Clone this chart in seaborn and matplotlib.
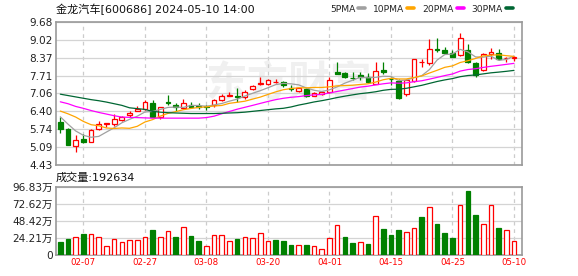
import numpy as np
import pandas as pd
import matplotlib
matplotlib.use("Agg")
import matplotlib.pyplot as plt
import seaborn as sns
from matplotlib.lines import Line2D

# ---------------- data ----------------
dates = ["02-02", "02-05", "02-06", "02-07", "02-08", "02-19", "02-20", "02-21", "02-22", "02-23",
         "02-26", "02-27", "02-28", "02-29", "03-01", "03-04", "03-05", "03-06", "03-07", "03-08",
         "03-11", "03-12", "03-13", "03-14", "03-15", "03-18", "03-19", "03-20", "03-21", "03-22",
         "03-25", "03-26", "03-27", "03-28", "03-29", "04-01", "04-02", "04-03", "04-08", "04-09",
         "04-10", "04-11", "04-12", "04-15", "04-16", "04-17", "04-18", "04-19", "04-22", "04-23",
         "04-24", "04-25", "04-26", "04-29", "04-30", "05-06", "05-07", "05-08", "05-09", "05-10"]

opens = [6.00, 5.76, 5.11, 5.39, 5.27, 5.77, 5.95, 5.92, 6.09, 6.25,
         6.43, 6.48, 6.71, 6.21, 6.74, 6.64, 6.51, 6.62, 6.58, 6.58,
         6.63, 6.82, 6.96, 6.95, 6.92, 7.21, 7.40, 7.40, 7.47, 7.46,
         7.27, 7.14, 7.21, 6.97, 7.05, 7.10, 7.84, 7.80, 7.63, 7.75,
         7.65, 7.42, 7.93, 7.60, 7.52, 7.02, 7.52, 8.20, 8.16, 8.69,
         8.65, 8.53, 8.47, 8.65, 8.19, 7.92, 8.51, 8.53, 8.35, 8.35]
highs = [6.21, 5.78, 5.53, 5.57, 5.76, 6.05, 5.97, 6.30, 6.24, 6.40,
         6.59, 6.80, 6.80, 6.55, 6.99, 6.70, 6.86, 6.76, 6.70, 6.64,
         6.85, 7.02, 7.12, 7.25, 7.20, 7.36, 7.65, 7.59, 7.58, 7.51,
         7.35, 7.26, 7.24, 7.12, 7.15, 7.65, 8.21, 7.86, 7.86, 7.86,
         7.80, 8.21, 8.20, 7.66, 7.60, 7.60, 8.31, 8.32, 9.05, 9.08,
         8.77, 8.65, 9.29, 8.87, 8.22, 8.55, 8.72, 8.68, 8.39, 8.42]
lows = [5.60, 5.15, 4.91, 5.25, 5.26, 5.72, 5.82, 5.88, 6.04, 6.21,
        6.40, 6.46, 6.18, 6.13, 6.64, 6.40, 6.48, 6.52, 6.48, 6.46,
        6.55, 6.77, 6.95, 6.76, 6.86, 7.19, 7.37, 7.37, 7.43, 7.29,
        7.16, 7.12, 6.93, 6.95, 7.01, 7.07, 7.76, 7.62, 7.55, 7.55,
        7.43, 7.40, 7.77, 7.37, 6.86, 6.97, 7.46, 8.02, 8.09, 8.57,
        8.51, 8.38, 8.43, 8.16, 7.67, 7.87, 8.33, 8.27, 8.20, 8.23]
closes = [5.76, 5.17, 5.33, 5.26, 5.72, 5.92, 5.97, 6.11, 6.18, 6.35,
          6.49, 6.75, 6.21, 6.55, 6.72, 6.55, 6.69, 6.57, 6.55, 6.56,
          6.81, 6.95, 7.00, 6.92, 7.12, 7.32, 7.43, 7.54, 7.49, 7.36,
          7.23, 7.24, 6.97, 7.07, 7.12, 7.55, 7.78, 7.65, 7.61, 7.65,
          7.46, 7.88, 7.84, 7.57, 6.90, 7.55, 8.31, 8.22, 8.68, 8.66,
          8.55, 8.41, 9.08, 8.22, 7.73, 8.51, 8.59, 8.32, 8.37, 8.38]
# volume in 万 (10k) shares
volumes = [18.5, 22.7, 25.0, 29.7, 29.2, 25.0, 12.3, 22.2, 18.0, 20.8,
           20.8, 25.0, 35.4, 25.0, 33.5, 25.5, 39.2, 26.9, 19.8, 12.3,
           27.9, 27.9, 19.8, 22.7, 25.0, 23.6, 30.7, 19.8, 21.3, 19.8,
           14.4, 14.2, 14.4, 12.8, 8.5, 24.0, 42.1, 25.7, 17.2, 18.4,
           15.8, 55.5, 37.1, 28.7, 35.7, 32.4, 38.1, 54.1, 67.7, 44.2,
           31.5, 24.4, 70.5, 90.7, 56.9, 43.7, 70.5, 38.5, 35.7, 19.2634]

# moving-average values before enough in-window history
ma5_head = [6.20, 5.93, 5.68, 5.52]
ma10_head = [6.41, 6.31, 6.19, 6.03, 5.91, 5.87, 5.79, 5.77, 5.79]
ma20_head = [6.75, 6.68, 6.58, 6.51, 6.43, 6.36, 6.30, 6.24, 6.19, 6.18,
             6.17, 6.16, 6.15, 6.15, 6.15, 6.15, 6.15, 6.15, 6.15]
ma30_head = [7.03, 6.98, 6.93, 6.88, 6.83, 6.79, 6.74, 6.68, 6.62, 6.53,
             6.50, 6.47, 6.40, 6.37, 6.35, 6.34, 6.33, 6.32, 6.32, 6.32,
             6.32, 6.33, 6.34, 6.35, 6.37, 6.40, 6.43, 6.46, 6.49]

ma_names = ["5PMA", "10PMA", "20PMA", "30PMA"]
ma_periods = [5, 10, 20, 30]
ma_heads = [ma5_head, ma10_head, ma20_head, ma30_head]

price_ticks = [4.43, 5.09, 5.74, 6.40, 7.06, 7.71, 8.37, 9.02, 9.68]
vol_ticks = [0, 24.21, 48.42, 72.62, 96.83]
vol_tick_labels = ["0", "24.21万", "48.42万", "72.62万", "96.83万"]
date_tick_idx = [3, 11, 19, 27, 35, 43, 51, 59]
title = "金龙汽车[600686] 2024-05-10 14:00"
watermark = "东方财富"

# ---------------- style ----------------
RED = "#ff0000"
GREEN = "#008000"
MA_COLORS = ["#a0a0a0", "#ffa500", "#ff00ff", "#006633"]
GRID = "#d4d4d4"
FRAME = "#9a9a9a"

sns.set_style("white")
plt.rcParams["font.family"] = ["DejaVu Sans", "Noto Sans CJK SC"]

df = pd.DataFrame({"date": dates, "open": opens, "high": highs, "low": lows,
                   "close": closes, "vol": volumes})
df["idx"] = np.arange(len(df))
for name, n, head in zip(ma_names, ma_periods, ma_heads):
    rolled = df["close"].rolling(n).mean().values[n - 1:]
    df[name] = np.concatenate([np.array(head), rolled])

W, H = 578, 276
fig = plt.figure(figsize=(W / 100, H / 100), dpi=100)
ax = fig.add_axes([56 / W, 1 - 165 / H, 466 / W, 143 / H])
axv = fig.add_axes([56 / W, 1 - 255 / H, 466 / W, 68 / H])

x = df["idx"].values
o = df["open"].values
c = df["close"].values
up = c >= o

# watermark
ax.text(0.50, 0.57, watermark, transform=ax.transAxes, fontsize=30, color="#f0f0f0",
        ha="center", va="center", zorder=0, fontweight="bold",
        family=["Noto Sans CJK SC"])

# candles
col = np.where(up, RED, GREEN)
ax.vlines(x, df["low"], df["high"], colors=col, linewidth=0.9, zorder=2)
body_bottom = np.minimum(o, c)
body_h = np.maximum(np.abs(c - o), 0.012)
ax.bar(x, body_h, bottom=body_bottom, width=0.62,
       color=np.where(up, "white", GREEN), edgecolor=col, linewidth=0.9, zorder=3)

# moving averages
for name, mc in zip(ma_names, MA_COLORS):
    sns.lineplot(data=df, x="idx", y=name, ax=ax, color=mc, linewidth=0.9, zorder=4)

ax.set_xlim(-0.56, 60.04)
ax.set_ylim(price_ticks[0], price_ticks[-1])
ax.set_yticks(price_ticks)
ax.set_yticklabels([f"{v:.2f}" for v in price_ticks])
ax.set_xticks(date_tick_idx)
ax.set_xticklabels([])
ax.set_xlabel("")
ax.set_ylabel("")

# volume
prev_close = np.concatenate([[o[0]], c[:-1]])
vup = c >= prev_close
vcol = np.where(vup, RED, GREEN)
axv.bar(x, df["vol"], width=0.6, color=np.where(vup, "white", GREEN),
        edgecolor=vcol, linewidth=0.9, zorder=3)
axv.set_xlim(-0.56, 60.04)
axv.set_ylim(0, vol_ticks[-1])
axv.set_yticks(vol_ticks)
axv.set_yticklabels(vol_tick_labels)
axv.set_xticks(date_tick_idx)
axv.set_xticklabels([dates[i] for i in date_tick_idx], color=RED, fontsize=6.2)

for a in (ax, axv):
    a.yaxis.grid(True, color=GRID, linewidth=0.9, linestyle="-", zorder=0)
    a.xaxis.grid(True, color="#cccccc", linewidth=0.9, linestyle=(0, (3, 3)), zorder=0)
    a.set_axisbelow(True)
    a.tick_params(axis="both", length=0, pad=2.5)
    a.tick_params(axis="y", labelsize=7.6, labelcolor="#222222")
    for s in a.spines.values():
        s.set_color(FRAME)
        s.set_linewidth(1.2)
        s.set_visible(True)

# texts
fig.text(56 / W, 1 - 9 / H, title, ha="left", va="center", fontsize=8, color="#111111")
fig.text(56 / W, 1 - 178 / H, f"成交量:{int(round(volumes[-1] * 10000))}",
         ha="left", va="center", fontsize=8, color="#111111")

handles = [Line2D([], [], color=mc, linewidth=2.6) for mc in MA_COLORS]
ax.legend(handles, ma_names, ncol=4, loc="center right", bbox_to_anchor=(0.98, 1.09),
          frameon=False, markerfirst=False, handlelength=0.75, handletextpad=0.3,
          columnspacing=0.9, fontsize=6.6, borderaxespad=0, borderpad=0)

fig.savefig("out.png", dpi=100)
